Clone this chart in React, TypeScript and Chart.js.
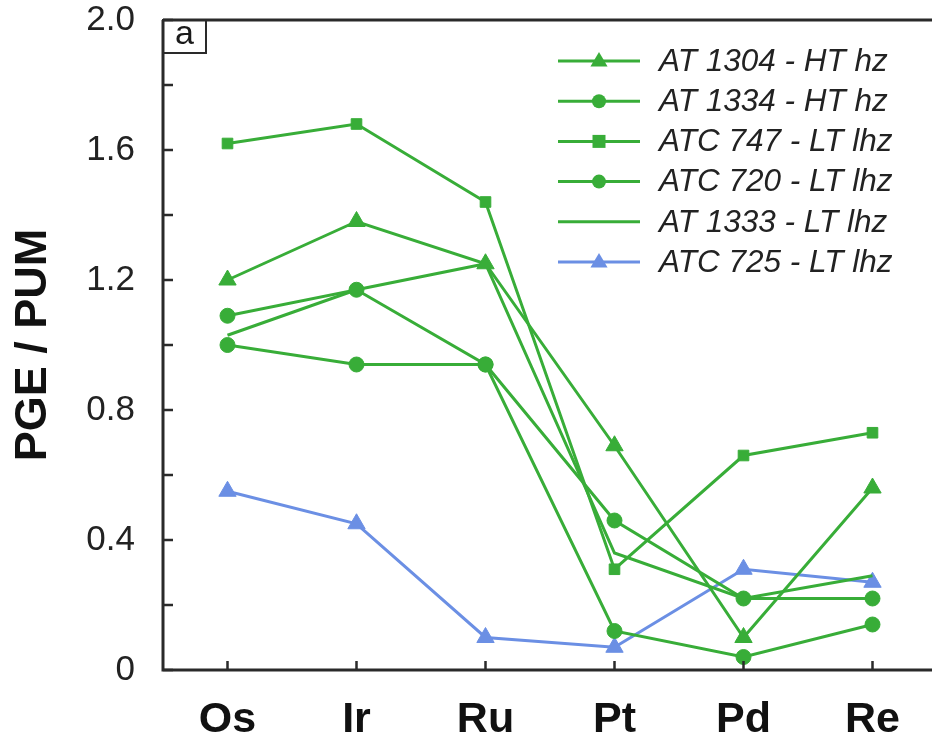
import React, { useEffect, useRef } from "react";
import { Chart, registerables } from "chart.js";

Chart.register(...registerables);

const categories = ["Os", "Ir", "Ru", "Pt", "Pd", "Re"];
const yTickValues = [0, 0.4, 0.8, 1.2, 1.6, 2.0];
const yMinorTicks = [0.2, 0.6, 1.0, 1.4, 1.8];

const seriesNames = [
  "AT 1304 - HT hz",
  "AT 1334 - HT hz",
  "ATC 747 - LT lhz",
  "ATC 720 - LT lhz",
  "AT 1333 - LT lhz",
  "ATC 725 - LT lhz",
];
const at1304 = [1.2, 1.38, 1.25, 0.69, 0.1, 0.56];
const at1334 = [1.09, 1.17, 0.94, 0.46, 0.22, 0.22];
const atc747 = [1.62, 1.68, 1.44, 0.31, 0.66, 0.73];
const atc720 = [1.0, 0.94, 0.94, 0.12, 0.04, 0.14];
const at1333 = [1.03, 1.17, 1.25, 0.36, 0.22, 0.29];
const atc725 = [0.55, 0.45, 0.1, 0.07, 0.31, 0.27];

const GREEN = "#38ad38";
const BLUE = "#6b8fe4";
const FONT = '"Liberation Sans", Arial, sans-serif';

const seriesValues = [at1304, at1334, atc747, atc720, at1333, atc725];
const seriesStyles = [
  { color: GREEN, shape: "triangle", r: 10 },
  { color: GREEN, shape: "circle", r: 7.5 },
  { color: GREEN, shape: "rect", r: 7.5 },
  { color: GREEN, shape: "circle", r: 7.5 },
  { color: GREEN, shape: "circle", r: 0 },
  { color: BLUE, shape: "triangle", r: 10 },
];

const framePlugin = {
  id: "frame",
  afterDraw(chart: any) {
    const { ctx, chartArea } = chart;
    const { left, right, top, bottom } = chartArea;
    const y = chart.scales.y;
    const x = chart.scales.x;
    ctx.save();
    ctx.strokeStyle = "#2a2a2a";
    ctx.lineWidth = 3;
    ctx.beginPath();
    ctx.moveTo(left, top);
    ctx.lineTo(right, top);
    ctx.moveTo(left, top);
    ctx.lineTo(left, bottom);
    ctx.lineTo(right, bottom);
    ctx.stroke();
    ctx.lineWidth = 2.5;
    ctx.beginPath();
    [...yTickValues, ...yMinorTicks].forEach((v) => {
      const py = y.getPixelForValue(v);
      ctx.moveTo(left, py);
      ctx.lineTo(left + 10, py);
    });
    categories.forEach((_, i) => {
      const px = x.getPixelForValue(i);
      ctx.moveTo(px, bottom);
      ctx.lineTo(px, bottom - 9);
    });
    ctx.stroke();

    // panel label box
    ctx.lineWidth = 2;
    ctx.strokeRect(left, top, 43, 33);
    ctx.fillStyle = "#1a1a1a";
    ctx.font = `34px ${FONT}`;
    ctx.textAlign = "center";
    ctx.textBaseline = "middle";
    ctx.fillText("a", left + 21.5, top + 15);

    // y title
    ctx.save();
    ctx.translate(34, 345);
    ctx.rotate(-Math.PI / 2);
    ctx.font = `bold 45px ${FONT}`;
    ctx.textAlign = "center";
    ctx.textBaseline = "middle";
    ctx.fillStyle = "#111";
    ctx.fillText("PGE / PUM", 0, 0);
    ctx.restore();

    // legend
    const lx0 = 558;
    const lx1 = 640;
    const ly0 = 61;
    const dy = 40.2;
    chart.data.datasets.forEach((ds: any, i: number) => {
      const ly = ly0 + i * dy;
      ctx.strokeStyle = ds.borderColor;
      ctx.lineWidth = 3;
      ctx.beginPath();
      ctx.moveTo(lx0, ly);
      ctx.lineTo(lx1, ly);
      ctx.stroke();
      const st = seriesStyles[i];
      if (st.r > 0) {
        ctx.fillStyle = st.color;
        const cx = (lx0 + lx1) / 2;
        ctx.beginPath();
        if (st.shape === "triangle") {
          const r = 9;
          ctx.moveTo(cx, ly - r);
          ctx.lineTo(cx + r * 0.95, ly + r * 0.6);
          ctx.lineTo(cx - r * 0.95, ly + r * 0.6);
          ctx.closePath();
        } else if (st.shape === "rect") {
          ctx.rect(cx - 6.5, ly - 6.5, 13, 13);
        } else {
          ctx.arc(cx, ly, 7, 0, Math.PI * 2);
        }
        ctx.fill();
      }
      ctx.fillStyle = "#222";
      ctx.font = `italic 31.5px ${FONT}`;
      ctx.textAlign = "left";
      ctx.textBaseline = "middle";
      ctx.fillText(ds.label, 659, ly + 1);
    });
    ctx.restore();
  },
};

export default function App() {
  const ref = useRef<HTMLCanvasElement | null>(null);
  useEffect(() => {
    if (!ref.current) return;
    const chart = new Chart(ref.current, {
      type: "line",
      data: {
        labels: categories,
        datasets: seriesNames.map((name, i) => ({
          label: name,
          data: seriesValues[i],
          borderColor: seriesStyles[i].color,
          backgroundColor: seriesStyles[i].color,
          pointBackgroundColor: seriesStyles[i].color,
          pointBorderColor: seriesStyles[i].color,
          pointStyle: seriesStyles[i].shape as any,
          pointRadius: seriesStyles[i].r,
          pointBorderWidth: 1,
          borderWidth: 3,
          tension: 0,
          fill: false,
        })),
      },
      options: {
        responsive: false,
        animation: false,
        events: [],
        layout: { padding: { left: 0, top: 20, right: 3, bottom: 0 } },
        plugins: {
          legend: { display: false },
          tooltip: { enabled: false },
          title: { display: false },
        },
        scales: {
          x: {
            type: "category",
            offset: true,
            grid: { display: false, drawTicks: false },
            border: { display: false },
            ticks: {
              color: "#111",
              font: { family: FONT, size: 43, weight: "bold" },
              padding: 24,
              maxRotation: 0,
            },
            afterFit: (s: any) => {
              s.height = 74;
              s.paddingLeft = 0;
              s.paddingRight = 0;
            },
          },
          y: {
            min: 0,
            max: 2,
            grid: { display: false, drawTicks: false },
            border: { display: false },
            afterBuildTicks: (s: any) => {
              s.ticks = yTickValues.map((v) => ({ value: v }));
            },
            ticks: {
              color: "#222",
              font: { family: FONT, size: 35 },
              padding: 28,
              callback: (v: any) => (Number(v) === 0 ? "0" : Number(v).toFixed(1)),
            },
            afterFit: (s: any) => {
              s.width = 163;
              s.paddingTop = 0;
              s.paddingBottom = 0;
            },
          },
        },
      },
      plugins: [framePlugin],
    });
    return () => chart.destroy();
  }, []);
  return (
    <div
      style={{
        position: "absolute",
        left: 0,
        top: 0,
        width: 932,
        height: 744,
        overflow: "hidden",
        background: "#fff",
      }}
    >
      <canvas ref={ref} width={948} height={744} style={{ display: "block" }} />
    </div>
  );
}
